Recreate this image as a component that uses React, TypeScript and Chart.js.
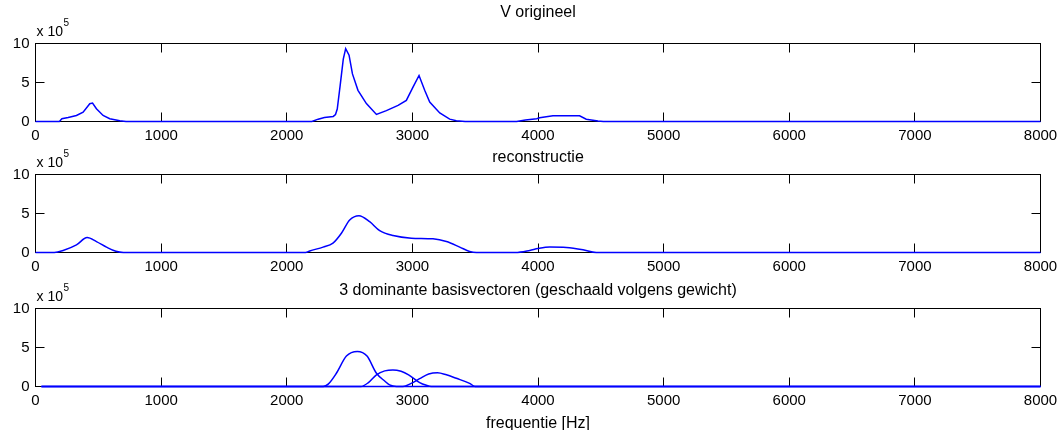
import React, { useEffect, useRef } from 'react';
import { Chart, registerables } from 'chart.js';

Chart.register(...registerables);

const FONT = '"Liberation Sans", Arial, Helvetica, sans-serif';

// Axis ticks: frequency in Hz, amplitude in units of 10^5
const freqTicks = [0, 1000, 2000, 3000, 4000, 5000, 6000, 7000, 8000];
const ampTicks = [0, 5, 10];

// V origineel
const origFreq = [0, 190, 210, 260, 326, 379, 432, 454, 485, 538, 591, 671, 720,
  2200, 2250, 2300, 2370, 2388, 2402, 2425, 2450, 2469, 2496, 2523, 2567, 2634, 2714,
  2793, 2886, 2952, 3005, 3053, 3098, 3138, 3218, 3297, 3350, 3420,
  3830, 3900, 3990, 4013, 4119, 4331, 4384, 4477, 4520, 8000];
const origAmp = [0, 0, 0.35, 0.5, 0.77, 1.2, 2.28, 2.36, 1.63, 0.77, 0.35, 0.1, 0,
  0, 0.3, 0.5, 0.65, 0.9, 1.6, 4.6, 8.0, 9.35, 8.5, 6.1, 4.0, 2.3, 0.9,
  1.4, 2.06, 2.7, 4.4, 5.9, 4.0, 2.5, 1.1, 0.3, 0.1, 0,
  0, 0.2, 0.35, 0.48, 0.73, 0.73, 0.3, 0.05, 0, 0];

// reconstructie
const reconFreq = [0, 150, 220, 326, 411, 485, 565, 640, 700,
  2150, 2183, 2289, 2368, 2435, 2501, 2575, 2660, 2740, 2846, 2992, 3164, 3271, 3377, 3456, 3510,
  3820, 3934, 4000, 4093, 4226, 4358, 4464, 8000];
const reconAmp = [0, 0, 0.26, 0.98, 1.91, 1.4, 0.69, 0.15, 0,
  0, 0.2, 0.69, 1.2, 2.47, 4.17, 4.72, 3.95, 2.8, 2.17, 1.84, 1.75, 1.4, 0.69, 0.13, 0,
  0, 0.26, 0.5, 0.69, 0.64, 0.35, 0, 0];

// 3 dominante basisvectoren
const basis1Freq = [47, 2290, 2330, 2395, 2475, 2562, 2639, 2714, 2780, 2819, 2873, 8000];
const basis1Amp = [0, 0, 0.3, 1.7, 3.9, 4.5, 3.9, 1.7, 0.7, 0.2, 0, 0];
const basis2Freq = [47, 2590, 2650, 2714, 2780, 2845, 2910, 2970, 3058, 3111, 3150, 8000];
const basis2Amp = [0, 0, 0.5, 1.5, 2.0, 2.13, 1.95, 1.5, 0.5, 0.15, 0, 0];
const basis3Freq = [47, 2925, 2990, 3058, 3130, 3200, 3271, 3350, 3456, 3500, 8000];
const basis3Amp = [0, 0, 0.4, 1.0, 1.6, 1.77, 1.5, 1.05, 0.4, 0, 0];

const WIDTH = 1058;
const PLOT_LEFT = 35.5;
const PLOT_RIGHT = 1040.5;
const PLOT_TOP = 43.5;
const PLOT_H = 78;
const TICK_LEN = 9;

type Panel = {
  title: string;
  titleBaseline: number; // relative to plot top
  canvasTop: number;
  canvasHeight: number;
  series: [number[], number[]][];
  smooth: boolean;
  xlabel?: string;
  xlabelBaseline?: number; // relative to plot top
};

const panels: Panel[] = [
  { title: 'V origineel', titleBaseline: -26.5, canvasTop: 0, canvasHeight: 145,
    series: [[origFreq, origAmp]], smooth: false },
  { title: 'reconstructie', titleBaseline: -12.5, canvasTop: 131, canvasHeight: 145,
    series: [[reconFreq, reconAmp]], smooth: true },
  { title: '3 dominante basisvectoren (geschaald volgens gewicht)', titleBaseline: -13.5,
    canvasTop: 265, canvasHeight: 165,
    series: [[basis1Freq, basis1Amp], [basis2Freq, basis2Amp], [basis3Freq, basis3Amp]],
    smooth: true, xlabel: 'frequentie [Hz]', xlabelBaseline: 119 },
];

const framePlugin = {
  id: 'frame',
  beforeDatasetsDraw(chart: any) {
    const { ctx, chartArea: a, scales } = chart;
    const snap = (v: number) => Math.round(v - 0.5) + 0.5;
    ctx.save();
    ctx.strokeStyle = '#000';
    ctx.lineWidth = 1;
    ctx.strokeRect(a.left, a.top, a.right - a.left, a.bottom - a.top);
    ctx.beginPath();
    for (const t of scales.x.ticks) {
      const px = snap(scales.x.getPixelForValue(t.value));
      ctx.moveTo(px, a.top);
      ctx.lineTo(px, a.top + TICK_LEN);
      ctx.moveTo(px, a.bottom);
      ctx.lineTo(px, a.bottom - TICK_LEN);
    }
    for (const t of scales.y.ticks) {
      const py = snap(scales.y.getPixelForValue(t.value));
      ctx.moveTo(a.left, py);
      ctx.lineTo(a.left + TICK_LEN, py);
      ctx.moveTo(a.right, py);
      ctx.lineTo(a.right - TICK_LEN, py);
    }
    ctx.stroke();
    ctx.restore();
  },
  afterDraw(chart: any, _args: any, opts: any) {
    const { ctx, chartArea: a } = chart;
    const cx = (a.left + a.right) / 2;
    ctx.save();
    ctx.fillStyle = '#000';
    ctx.textBaseline = 'alphabetic';
    ctx.textAlign = 'center';
    ctx.font = `16px ${FONT}`;
    ctx.fillText(opts.title, cx, a.top + opts.titleBaseline);
    if (opts.xlabel) {
      ctx.fillText(opts.xlabel, cx, a.top + opts.xlabelBaseline);
    }
    // exponent label of the amplitude axis
    ctx.textAlign = 'left';
    ctx.font = `14px ${FONT}`;
    const base = 'x 10';
    const x0 = a.left + 1;
    ctx.fillText(base, x0, a.top - 7.5);
    const w = ctx.measureText(base).width;
    ctx.font = `10px ${FONT}`;
    ctx.fillText('5', x0 + w + 0.5, a.top - 18);
    ctx.restore();
  },
};

function PanelChart({ cfg }: { cfg: Panel }) {
  const ref = useRef<HTMLCanvasElement>(null);
  useEffect(() => {
    const tickFont = { family: FONT, size: 15 };
    const chart = new Chart(ref.current as HTMLCanvasElement, {
      type: 'line',
      data: {
        datasets: cfg.series.map(([f, v]) => ({
          data: f.map((x, i) => ({ x, y: v[i] })),
          borderColor: '#0000ff',
          borderWidth: 1.5,
          pointRadius: 0,
          fill: false,
          tension: 0,
          clip: 3,
          cubicInterpolationMode: cfg.smooth ? 'monotone' : 'default',
        })),
      },
      options: {
        animation: false,
        responsive: false,
        devicePixelRatio: 1,
        events: [],
        layout: { padding: { left: 0, top: PLOT_TOP, right: WIDTH - PLOT_RIGHT, bottom: 0 } },
        plugins: {
          legend: { display: false },
          tooltip: { enabled: false },
          frame: {
            title: cfg.title,
            titleBaseline: cfg.titleBaseline,
            xlabel: cfg.xlabel,
            xlabelBaseline: cfg.xlabelBaseline,
          },
        } as any,
        scales: {
          x: {
            type: 'linear',
            min: 0,
            max: 8000,
            afterBuildTicks: (s: any) => { s.ticks = freqTicks.map((value) => ({ value })); },
            ticks: {
              font: tickFont, color: '#000', padding: 5, maxRotation: 0, autoSkip: false,
              callback: (v: any) => String(v),
            },
            grid: { display: false, drawTicks: false },
            border: { display: false },
            afterFit: (s: any) => {
              s.height = cfg.canvasHeight - PLOT_TOP - PLOT_H;
              s.paddingLeft = 0;
              s.paddingRight = 0;
            },
          },
          y: {
            type: 'linear',
            min: 0,
            max: 10,
            afterBuildTicks: (s: any) => { s.ticks = ampTicks.map((value) => ({ value })); },
            ticks: {
              font: tickFont, color: '#000', padding: 6,
              callback: (v: any) => String(v),
            },
            grid: { display: false, drawTicks: false },
            border: { display: false },
            afterFit: (s: any) => {
              s.width = PLOT_LEFT;
              s.paddingTop = 0;
              s.paddingBottom = 0;
            },
          },
        },
      } as any,
      plugins: [framePlugin as any],
    });
    return () => chart.destroy();
  }, [cfg]);
  return (
    <canvas
      ref={ref}
      width={WIDTH}
      height={cfg.canvasHeight}
      style={{ position: 'absolute', left: 0, top: cfg.canvasTop, width: WIDTH, height: cfg.canvasHeight }}
    />
  );
}

export default function App() {
  return (
    <div style={{ position: 'absolute', left: 0, top: 0, width: WIDTH, height: 430, background: '#fff', overflow: 'hidden' }}>
      {panels.map((p) => (
        <PanelChart key={p.title} cfg={p} />
      ))}
    </div>
  );
}
